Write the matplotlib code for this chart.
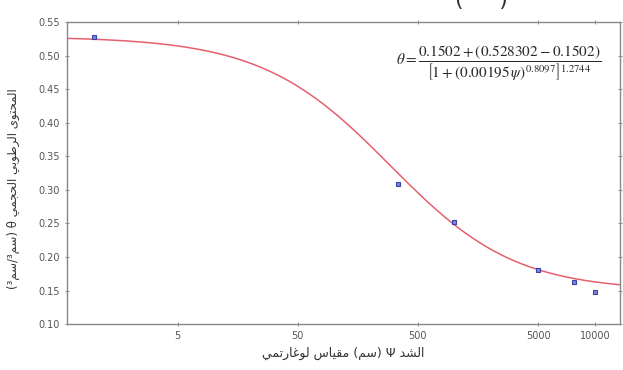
import numpy as np
import matplotlib
matplotlib.use("Agg")
import matplotlib.pyplot as plt

# measured points: suction psi (cm), volumetric water content theta
psi_obs = [1, 341, 1000, 5000, 10000, 15000]
theta_obs = [0.528, 0.308, 0.252, 0.181, 0.163, 0.148]

# curve parameters (van Genuchten form), tuned to the drawn curve
theta_r = 0.1502
theta_s = 0.528302
alpha = 0.003
n_vg = 0.8
m_vg = 1.1

x_ticks = [5, 50, 500, 5000, 15000]
x_tick_labels = ["5", "50", "500", "5000", "10000"]
y_ticks = [0.10, 0.15, 0.20, 0.25, 0.30, 0.35, 0.40, 0.45, 0.50, 0.55]

# simple arabic shaping (presentation forms) since matplotlib has no bidi
FORMS = {
    "ا": ("\uFE8D", "\uFE8E", None, None),
    "ب": ("\uFE8F", "\uFE90", "\uFE91", "\uFE92"),
    "ت": ("\uFE95", "\uFE96", "\uFE97", "\uFE98"),
    "ج": ("\uFE9D", "\uFE9E", "\uFE9F", "\uFEA0"),
    "ح": ("\uFEA1", "\uFEA2", "\uFEA3", "\uFEA4"),
    "د": ("\uFEA9", "\uFEAA", None, None),
    "ر": ("\uFEAD", "\uFEAE", None, None),
    "س": ("\uFEB1", "\uFEB2", "\uFEB3", "\uFEB4"),
    "ش": ("\uFEB5", "\uFEB6", "\uFEB7", "\uFEB8"),
    "ط": ("\uFEC1", "\uFEC2", "\uFEC3", "\uFEC4"),
    "غ": ("\uFECD", "\uFECE", "\uFECF", "\uFED0"),
    "ق": ("\uFED5", "\uFED6", "\uFED7", "\uFED8"),
    "ل": ("\uFEDD", "\uFEDE", "\uFEDF", "\uFEE0"),
    "م": ("\uFEE1", "\uFEE2", "\uFEE3", "\uFEE4"),
    "و": ("\uFEED", "\uFEEE", None, None),
    "ى": ("\uFEEF", "\uFEF0", None, None),
    "ي": ("\uFEF1", "\uFEF2", "\uFEF3", "\uFEF4"),
}


def shape_word(w):
    out = []
    for i, c in enumerate(w):
        if c not in FORMS:
            out.append(c)
            continue
        prev = w[i - 1] if i > 0 else None
        nxt = w[i + 1] if i < len(w) - 1 else None
        link_prev = prev in FORMS and FORMS[prev][2] is not None
        link_next = nxt in FORMS and FORMS[c][2] is not None
        iso, fin, ini, med = FORMS[c]
        if link_prev and link_next:
            out.append(med)
        elif link_prev:
            out.append(fin)
        elif link_next:
            out.append(ini)
        else:
            out.append(iso)
    return "".join(out)


def ar(w):
    # shaped word in visual (left to right) order
    return shape_word(w)[::-1]


x_label = " ".join([ar("لوغارتمي"), ar("مقياس"), "(" + ar("سم") + ")", "Ψ", ar("الشد")])
y_label = " ".join(["(³" + ar("سم") + "/³" + ar("سم") + ")", "θ",
                    ar("الحجمي"), ar("الرطوبي"), ar("المحتوى")])

plt.rcParams["mathtext.fontset"] = "stix"

fig = plt.figure(figsize=(6.23, 3.70), dpi=100)
ax = fig.add_axes([0.1075, 0.124, 0.8875, 0.8165])

psi_fit = np.logspace(np.log10(0.6), np.log10(24000), 400)
theta_fit = theta_r + (theta_s - theta_r) / (1 + (alpha * psi_fit) ** n_vg) ** m_vg
ax.plot(psi_fit, theta_fit, color="#e4606e", lw=1.1)
ax.plot(psi_obs, theta_obs, "s", ms=3.5, mfc="#7d86d8", mec="#3a44a8", mew=0.8)

ax.set_xscale("log")
ax.set_xlim(0.6, 24000)
ax.set_ylim(0.10, 0.55)
ax.set_xticks(x_ticks)
ax.set_xticklabels(x_tick_labels)
ax.xaxis.set_minor_locator(matplotlib.ticker.NullLocator())
ax.set_yticks(y_ticks)
ax.set_yticklabels(["%.2f" % v for v in y_ticks])
ax.tick_params(direction="inout", length=3, width=0.6, colors="#777777",
               labelsize=7, top=True, right=True, labelcolor="#555555")
for s in ax.spines.values():
    s.set_color("#888888")
    s.set_linewidth(1.0)

ax.set_xlabel(x_label, fontsize=9, color="#333333", labelpad=4, family="DejaVu Sans")
ax.set_ylabel(y_label, fontsize=8.5, color="#333333", family="DejaVu Sans")
ax.yaxis.set_label_coords(-0.085, 0.45)

eq = (r"$\theta = \dfrac{0.1502 + \left(0.528302 - 0.1502\right)}"
      r"{\left[1 + \left(0.00195\,\psi\right)^{0.8097}\right]^{1.2744}}$")
ax.text(0.595, 0.865, eq, transform=ax.transAxes, fontsize=11, color="#2a2a2a",
        va="center", ha="left")

fig.text(0.773, 1.0, "(     )", fontsize=16, color="#333333", ha="center", va="center")

fig.savefig("out.png", dpi=100)
